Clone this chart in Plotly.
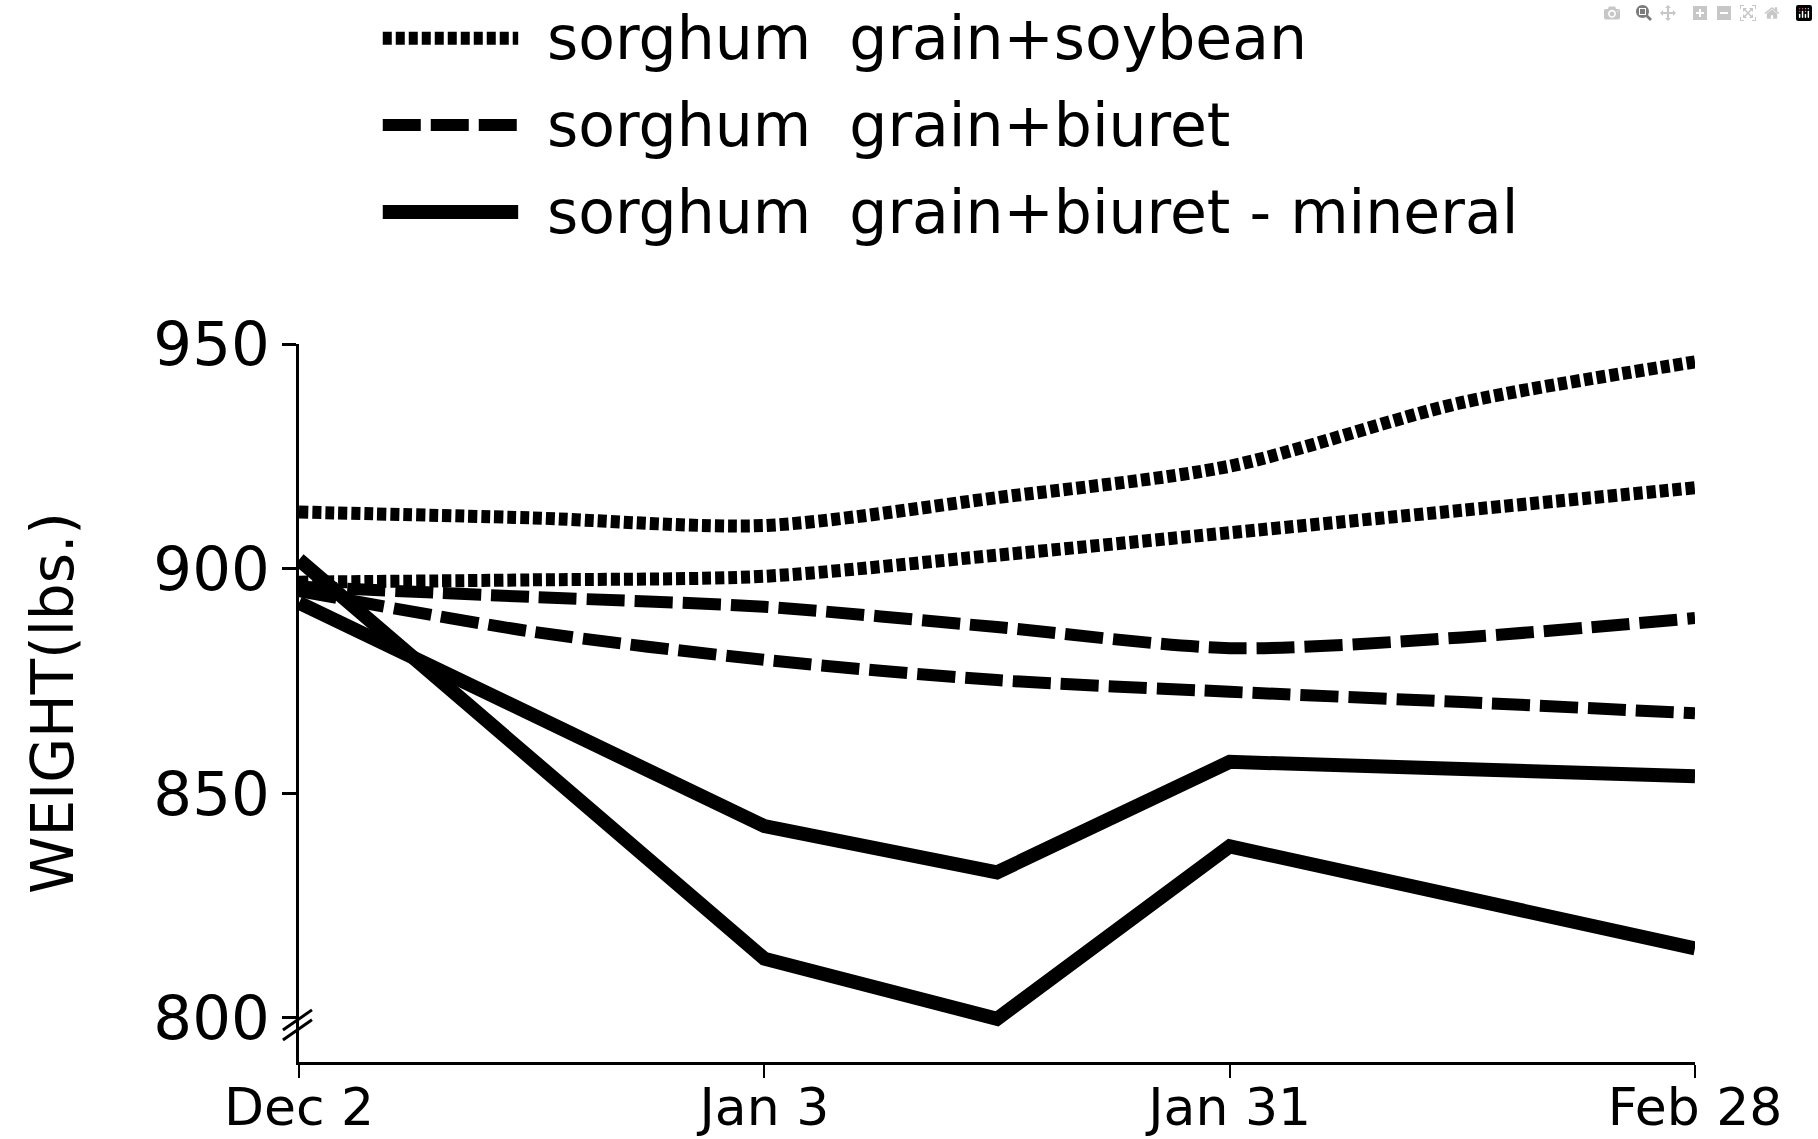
import plotly.graph_objects as go

# ---- data ----
tick_pos = [0, 1, 2, 3]
tick_labels = ["Dec 2", "Jan 3", "Jan 31", "Feb 28"]

# weigh days (Dec 2 ... Feb 28), evenly placed between the labelled dates
x_smooth = [0, 0.5, 1, 1.5, 2, 2.5, 3]
x_solid = [0, 1, 1.5, 2, 3]

soy_a = [912.6, 911.3, 909.6, 915.8, 922.8, 937.0, 946.0]
soy_b = [897.0, 897.5, 898.3, 903.0, 908.0, 913.0, 918.0]
biuret_a = [896.0, 893.7, 891.5, 887.0, 882.3, 884.7, 889.0]
biuret_b = [895.0, 886.0, 879.7, 875.2, 872.6, 870.3, 867.8]
mineral_a = [902.0, 813.2, 799.8, 838.2, 815.5]
mineral_b = [892.4, 842.7, 832.4, 857.0, 853.8]

legend_labels = [
    "sorghum\u00a0 grain+soybean",
    "sorghum\u00a0 grain+biuret",
    "sorghum\u00a0 grain+biuret - mineral",
]

FONT = "DejaVu Sans"
DOT = dict(color="black", width=13, dash="9px,4px")
DASH = dict(color="black", width=12, dash="38px,10px")
SOLID = dict(color="black", width=14)

fig = go.Figure()
for y, nm in [(soy_a, "soybean 1"), (soy_b, "soybean 2")]:
    fig.add_trace(go.Scatter(x=x_smooth, y=y, mode="lines", name=nm,
                             line=dict(shape="spline", smoothing=0.8, **DOT),
                             showlegend=False))
for y, nm in [(biuret_a, "biuret 1"), (biuret_b, "biuret 2")]:
    fig.add_trace(go.Scatter(x=x_smooth, y=y, mode="lines", name=nm,
                             line=dict(shape="spline", smoothing=0.8, **DASH),
                             showlegend=False))
for y, nm in [(mineral_a, "mineral 1"), (mineral_b, "mineral 2")]:
    fig.add_trace(go.Scatter(x=x_solid, y=y, mode="lines", name=nm,
                             line=dict(shape="linear", **SOLID),
                             showlegend=False))

# ---- legend drawn as sample lines + text ----
shapes = []
annotations = []
rows_y = [1.426, 1.305, 1.184]
styles = [DOT, DASH, SOLID]
for ry, st, lab in zip(rows_y, styles, legend_labels):
    shapes.append(dict(type="line", xref="paper", yref="paper",
                       x0=0.060, x1=0.157, y0=ry, y1=ry, line=st))
    annotations.append(dict(xref="paper", yref="paper", x=0.176, y=ry,
                            xanchor="left", yanchor="middle", text=lab,
                            showarrow=False,
                            font=dict(family=FONT, size=60, color="black")))

# axis break marks (//) near 800
for dy in (0.0, -2.2):
    shapes.append(dict(type="line", xref="paper", yref="y",
                       x0=-0.0115, x1=0.0093, y0=797.3 + dy, y1=801.8 + dy,
                       line=dict(color="black", width=3)))

fig.update_layout(
    width=1818, height=1139, autosize=False,
    paper_bgcolor="white", plot_bgcolor="white",
    margin=dict(l=299, r=123, t=344, b=77),
    shapes=shapes, annotations=annotations,
    font=dict(family=FONT, color="black"),
)
fig.update_xaxes(range=[0, 3], tickvals=tick_pos, ticktext=tick_labels,
                 automargin=False,
                 showline=True, linecolor="black", linewidth=3,
                 ticks="outside", ticklen=13, tickwidth=2, tickcolor="black",
                 ticklabelstandoff=-15,
                 showgrid=False, zeroline=False,
                 tickfont=dict(family=FONT, size=52, color="black"))
fig.update_yaxes(range=[790.2, 950], tickvals=[800, 850, 900, 950],
                 automargin=False,
                 showline=True, linecolor="black", linewidth=3,
                 ticks="outside", ticklen=14, tickwidth=3, tickcolor="black",
                 showgrid=False, zeroline=False,
                 tickfont=dict(family=FONT, size=61, color="black"),
                 title=dict(text="WEIGHT(lbs.)\u00a0\u00a0", standoff=62,
                            font=dict(family=FONT, size=58, color="black")))

fig.write_html("out.html", post_script="document.body.style.margin='0';")
